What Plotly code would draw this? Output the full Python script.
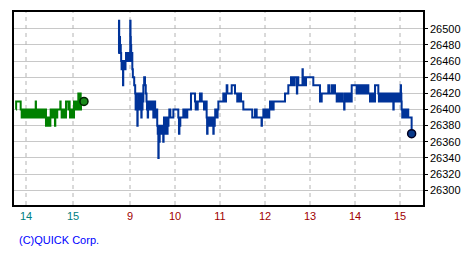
import plotly.graph_objects as go

# ---- data ----
# previous session: (minutes relative to 15:00 of previous day, price)
prev_day = [
    (-72.8, 26400), (-72.6, 26410), (-66.8, 26400), (-65.5, 26390), (-65.1, 26400),
    (-62.6, 26390), (-62.2, 26400), (-60.9, 26390), (-60.5, 26400),
    (-59.2, 26390), (-58.4, 26400), (-57.6, 26390), (-56.8, 26400), (-56.0, 26390),
    (-55.2, 26400), (-54.4, 26390), (-53.6, 26400),
    (-52.3, 26390), (-51.5, 26400), (-50.7, 26390), (-49.9, 26400), (-49.1, 26390),
    (-48.5, 26400), (-47.6, 26410), (-47.3, 26400),
    (-47.0, 26390), (-46.2, 26400), (-45.4, 26390), (-44.6, 26400), (-43.8, 26390),
    (-43.0, 26400), (-42.2, 26390), (-41.4, 26400), (-40.6, 26390), (-39.8, 26400),
    (-39.0, 26390), (-38.2, 26400), (-37.4, 26390), (-36.6, 26400), (-35.8, 26390),
    (-35.0, 26400),
    (-34.5, 26380), (-33.7, 26390), (-32.9, 26380), (-32.1, 26390), (-31.3, 26380),
    (-30.5, 26390), (-29.7, 26380), (-28.9, 26390),
    (-28.5, 26400), (-27.7, 26390), (-26.9, 26400), (-26.1, 26390), (-25.3, 26400),
    (-24.5, 26390), (-23.7, 26400), (-23.0, 26380), (-22.6, 26400),
    (-20.5, 26390), (-20.1, 26400), (-16.2, 26410), (-15.8, 26400),
    (-14.5, 26390), (-13.7, 26400), (-12.9, 26390), (-12.1, 26400), (-11.3, 26390),
    (-10.5, 26400), (-9.7, 26390),
    (-8.9, 26410), (-5.9, 26400), (-5.1, 26410), (-4.3, 26400),
    (-3.8, 26390), (-3.0, 26400), (-2.2, 26390), (-1.4, 26400), (-0.6, 26390),
    (0.2, 26400), (1.0, 26390),
    (1.3, 26410), (2.1, 26400), (2.9, 26410), (3.7, 26400), (4.5, 26410), (5.3, 26400),
    (6.1, 26410), (6.8, 26420), (7.2, 26400), (8.0, 26410), (8.8, 26400), (9.4, 26420),
    (9.8, 26400), (10.2, 26410), (14.0, 26410),
]

# today's session: (minutes relative to 9:00, price)
day_open = [
    (-15.0, 26470), (-14.7, 26510), (-14.4, 26470), (-13.6, 26490), (-13.3, 26480),
    (-12.3, 26470), (-11.8, 26460), (-11.2, 26450), (-10.6, 26460), (-10.0, 26450),
    (-9.3, 26430), (-9.0, 26450), (-8.4, 26460), (-7.8, 26450), (-7.2, 26460),
    (-6.6, 26450), (-6.0, 26460),
    (-5.3, 26470), (-4.6, 26460), (-3.9, 26470), (-3.2, 26460), (-2.5, 26470),
    (-1.8, 26460), (-1.1, 26470), (-0.4, 26460), (0.0, 26470), (0.3, 26510),
    (0.7, 26490), (1.1, 26480), (1.6, 26470), (2.1, 26460), (2.6, 26470),
    (3.1, 26450), (3.8, 26440), (5.6, 26430),
    (6.9, 26420), (7.5, 26400), (8.1, 26420), (8.7, 26410), (9.3, 26400), (9.8, 26380),
    (10.2, 26410), (10.8, 26400), (11.4, 26420), (12.0, 26400), (12.6, 26420),
    (13.2, 26410), (13.8, 26400), (14.4, 26420), (15.1, 26390), (15.5, 26420),
    (16.1, 26400), (16.7, 26420), (17.3, 26410), (17.8, 26430), (18.9, 26440),
    (20.0, 26430), (21.0, 26420), (22.0, 26410),
    (22.7, 26400), (23.2, 26410), (23.6, 26390), (24.1, 26410), (24.8, 26400),
    (25.5, 26410), (26.2, 26400), (26.9, 26410), (27.6, 26400), (28.3, 26410),
    (29.0, 26400), (29.7, 26410), (30.4, 26400), (31.1, 26390), (31.6, 26410),
    (32.3, 26400), (33.0, 26410),
    (33.5, 26390), (34.2, 26400), (34.9, 26390), (35.6, 26400), (36.3, 26380),
    (37.0, 26370), (37.5, 26380), (37.8, 26340), (38.2, 26370), (38.7, 26360),
    (39.6, 26380), (40.3, 26370), (41.0, 26380), (41.7, 26370), (42.4, 26380),
    (43.1, 26370), (43.8, 26380), (44.3, 26360), (44.8, 26380),
]

day_morning = [
    (45.3, 26390), (45.9, 26370), (46.5, 26390), (47.1, 26370), (47.7, 26390),
    (48.3, 26380), (48.9, 26390), (49.5, 26370), (50.1, 26390), (50.7, 26380),
    (51.3, 26390),
    (52.4, 26400), (53.8, 26390), (57.8, 26400), (64.4, 26390), (65.3, 26370),
    (65.9, 26390), (66.5, 26380), (67.1, 26390),
    (71.1, 26400), (73.8, 26390), (76.4, 26400), (81.3, 26420), (86.7, 26410),
    (87.6, 26400), (88.5, 26410), (89.4, 26400), (90.3, 26410), (93.3, 26420),
    (95.6, 26410), (98.7, 26400), (99.5, 26410), (100.4, 26400), (101.2, 26410),
    (102.2, 26390), (102.8, 26370), (103.4, 26390), (104.1, 26380), (104.8, 26390),
    (105.5, 26380), (106.2, 26390), (106.9, 26380), (107.6, 26390), (108.3, 26380),
    (109.0, 26390), (109.7, 26380), (110.4, 26390), (111.1, 26370), (111.6, 26390),
    (112.3, 26380), (113.0, 26390),
    (113.6, 26400), (114.4, 26390), (115.2, 26400), (116.0, 26390), (116.8, 26400),
    (117.8, 26410), (124.4, 26420), (125.3, 26410), (126.2, 26420), (127.1, 26410),
    (128.0, 26420), (128.9, 26430), (129.8, 26420), (135.6, 26430), (140.0, 26420),
    (143.0, 26410), (143.8, 26420), (144.6, 26410), (145.4, 26420), (146.2, 26410),
    (147.0, 26420), (148.0, 26410), (151.1, 26400), (163.0, 26390), (166.7, 26400),
    (168.9, 26390), (175.4, 26380), (175.9, 26390),
]

day_afternoon = [
    (177.8, 26400), (178.8, 26390), (179.8, 26400), (180.8, 26390), (181.8, 26400),
    (182.8, 26390), (183.8, 26400), (184.8, 26390), (185.7, 26400),
    (186.7, 26410), (188.5, 26400), (189.1, 26410), (190.9, 26400), (191.5, 26410),
    (206.7, 26420), (211.1, 26430), (214.7, 26440), (215.5, 26430), (216.3, 26440),
    (217.1, 26430), (217.9, 26440), (218.7, 26430), (219.5, 26440),
    (222.5, 26420), (223.0, 26440), (224.4, 26430), (230.0, 26450), (230.4, 26430),
    (231.1, 26440), (232.0, 26430), (232.9, 26440), (233.8, 26430), (234.7, 26440),
    (244.4, 26430), (253.3, 26410), (255.6, 26420), (264.4, 26430), (265.6, 26420),
    (268.9, 26430), (270.2, 26420), (272.0, 26430), (273.3, 26420),
    (275.6, 26410), (277.5, 26420), (279.4, 26410), (281.3, 26420), (283.2, 26410),
    (285.5, 26400), (286.0, 26420), (286.8, 26410), (287.6, 26420), (288.4, 26410),
    (289.2, 26420), (290.0, 26410), (290.8, 26420), (291.6, 26410), (292.4, 26420),
    (293.3, 26410),
    (295.6, 26430), (302.2, 26420), (303.6, 26430), (305.0, 26420), (307.5, 26430),
    (309.0, 26420), (310.5, 26430), (312.0, 26420), (313.3, 26430), (315.0, 26420),
    (316.5, 26430),
    (317.8, 26420), (320.0, 26410), (322.0, 26420), (324.5, 26410), (326.7, 26430),
    (331.1, 26420), (331.9, 26410), (332.7, 26420), (333.5, 26410), (334.3, 26420),
    (335.1, 26410), (335.9, 26420), (336.7, 26410), (337.5, 26420), (338.3, 26410),
    (339.1, 26420), (339.9, 26410), (340.7, 26420), (341.5, 26410), (342.3, 26420),
    (343.1, 26410), (343.9, 26420), (344.7, 26410), (345.5, 26420), (346.3, 26410),
    (347.1, 26420), (347.9, 26410), (348.7, 26420), (349.5, 26410), (350.3, 26420),
    (351.1, 26400), (351.6, 26420), (352.4, 26410), (353.2, 26420), (354.0, 26410),
    (354.8, 26420), (355.6, 26410), (356.4, 26420), (357.2, 26410), (358.0, 26420),
    (358.8, 26410), (359.6, 26420), (360.4, 26410), (360.9, 26430), (361.3, 26420),
    (361.8, 26410),
    (362.2, 26400), (363.0, 26390), (363.8, 26400), (364.6, 26390), (365.4, 26400),
    (366.2, 26390), (367.0, 26400), (367.8, 26390), (368.6, 26400), (369.4, 26390),
    (370.2, 26400), (371.0, 26390), (375.5, 26370),
]

prev_hours = [14, 15]
day_hours = [9, 10, 11, 12, 13, 14, 15]
y_ticks = [26300, 26320, 26340, 26360, 26380, 26400, 26420, 26440, 26460, 26480, 26500]

# ---- scale mapping (compressed time axis, in "hours") ----
PREV_15 = 9 - 57 / 45.0        # position of previous-day 15:00
PREV_SCALE = 47 / 45.0
Y_RANGE = [26281.6, 26520.9]


def prev_pos(m):
    return PREV_15 + m / 60.0 * PREV_SCALE


def day_pos(m):
    return 9 + m / 60.0


px = [prev_pos(t) for t, v in prev_day]
py = [v for t, v in prev_day]
today = day_open + day_morning + day_afternoon
dx = [day_pos(t) for t, v in today]
dy = [v for t, v in today]

tickvals = [prev_pos((h - 15) * 60) for h in prev_hours] + [day_pos((h - 9) * 60) for h in day_hours]
ticktext = ['<span style="color:#008080">%d</span>' % h for h in prev_hours] + \
           ['<span style="color:#a00000">%d</span>' % h for h in day_hours]

# vertical dashed hour grid, drawn as a trace at the tick positions
gx, gy = [], []
for tv in tickvals:
    gx += [tv, tv, None]
    gy += [Y_RANGE[0], Y_RANGE[1], None]

FONT = "Liberation Sans"
fig = go.Figure()
fig.add_trace(go.Scatter(x=gx, y=gy, mode="lines",
                         line=dict(color="#b4b4b4", width=1, dash="4px,4px"),
                         hoverinfo="skip"))
fig.add_trace(go.Scatter(x=px, y=py, mode="lines", line=dict(color="#008000", width=2, shape="hv"),
                         hoverinfo="skip"))
fig.add_trace(go.Scatter(x=dx, y=dy, mode="lines", line=dict(color="#003399", width=2, shape="hv"),
                         hoverinfo="skip"))
fig.add_trace(go.Scatter(x=[px[-1]], y=[py[-1]], mode="markers",
                         marker=dict(size=8, color="#1a8a1a", line=dict(color="#002200", width=1.5)),
                         hoverinfo="skip"))
fig.add_trace(go.Scatter(x=[dx[-1]], y=[dy[-1]], mode="markers",
                         marker=dict(size=8, color="#0a3a8a", line=dict(color="#000022", width=1.5)),
                         hoverinfo="skip"))

fig.update_layout(
    width=475, height=260,
    margin=dict(l=14, r=52, t=10, b=55),
    paper_bgcolor="white", plot_bgcolor="white",
    showlegend=False,
    font=dict(family=FONT, size=11, color="black"),
    xaxis=dict(
        range=[9 - 116 / 45.0, 15 + 23 / 45.0],
        tickvals=tickvals, ticktext=ticktext,
        showgrid=False,
        zeroline=False, ticks="", showline=True, mirror=True,
        linecolor="black", linewidth=1.5,
        tickfont=dict(family=FONT, size=11),
        fixedrange=True,
    ),
    yaxis=dict(
        range=Y_RANGE,
        side="right", tickvals=y_ticks, ticktext=[str(v) for v in y_ticks],
        showgrid=True, gridcolor="#c8c8c8", gridwidth=1,
        zeroline=False, ticks="outside", ticklen=3, tickcolor="black",
        showline=True, mirror=True, linecolor="black", linewidth=1.5,
        tickfont=dict(family=FONT, size=11, color="black"),
        fixedrange=True,
    ),
    annotations=[dict(
        text="(C)QUICK Corp.", xref="paper", yref="paper",
        x=(17 - 14) / 409.0, y=(205 - 240) / 195.0,
        xanchor="left", yanchor="middle", showarrow=False,
        font=dict(family=FONT, size=11, color="#0000ff"),
    )],
)

fig.write_html("out.html")
